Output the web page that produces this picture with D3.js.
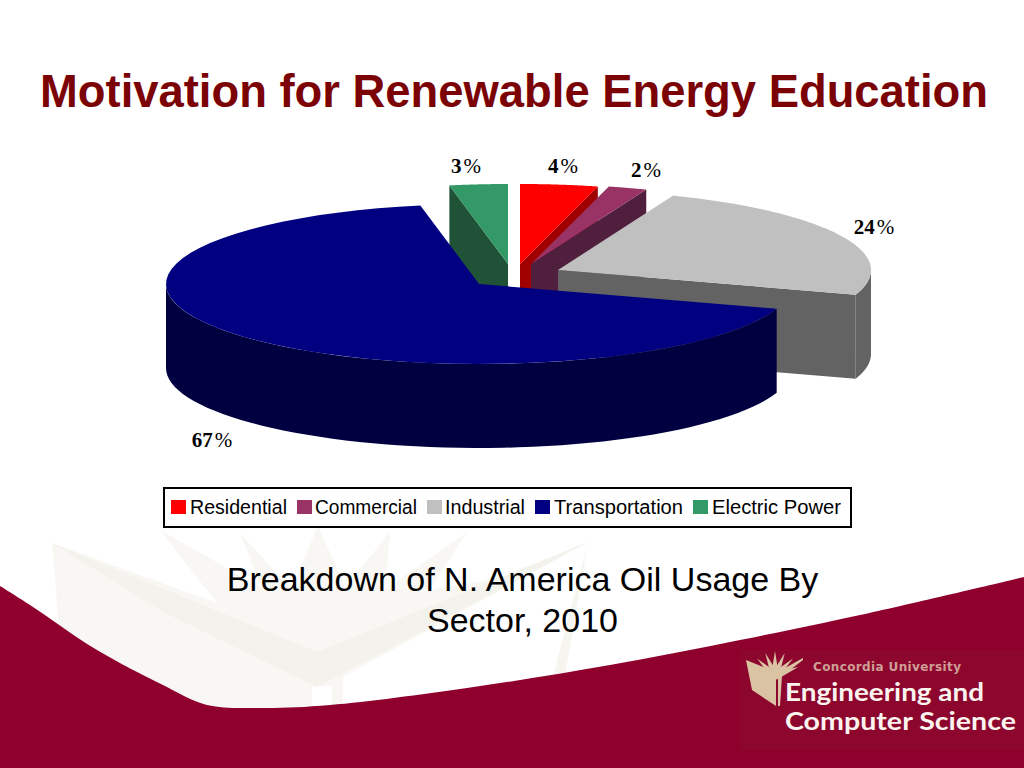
<!DOCTYPE html>
<html><head><meta charset="utf-8">
<script src="https://cdn.jsdelivr.net/npm/d3@7"></script>
<style>html,body{margin:0;padding:0;background:#fff;overflow:hidden}svg{display:block}</style>
</head><body><svg id="c" width="1024" height="768"></svg>
<script>
const categories = ["Residential","Commercial","Industrial","Transportation","Electric Power"];
const shares = [4,2,24,67,3];
const topColors = ["#ff0000","#993366","#c0c0c0","#000080","#339966"];
const wallColors = ["#a00000","#4f1f3d","#636363","#000040","#1f5236"];
const titleText = "Motivation for Renewable Energy Education";
const captionLines = ["Breakdown of N. America Oil Usage By","Sector, 2010"];
const logoLines = ["Engineering and","Computer Science"];
const logoTop = "Concordia University";

const svg = d3.select("#c");
const line = d3.line();
const smooth = d3.line().curve(d3.curveCatmullRom.alpha(0.5));

/* ---------- slide background ---------- */
const bg = svg.append("g");
bg.append("path").attr("fill","#f9f7f3").attr("d",line([
 [52,543],[217,603],[160,530],[262,588],[240,533],[292,590],[318,525],[345,588],[390,532],[385,590],
 [467,532],[430,590],[500,578],[588,542],[343,677],[343,712],[332,712],[332,686],[312,686],[312,712],[207,712],[120,700],[60,640]
])+"Z");
bg.append("path").attr("fill","#f4f2ed").attr("d",line([[52,543],[317,652],[588,542],[317,687],[163,612]])+"Z");
bg.append("path").attr("fill","#f7f5f0").attr("d",line([[588,542],[552,680],[565,675]])+"Z");
const wave = [[0,586],[30,605],[97,650],[163,685],[207,705],[263,708],[330,705],[467,688],[610,665],[740,640],[860,615],[1024,577]];
bg.append("path").attr("d",smooth(wave)+"L1024,768L0,768Z").attr("fill","#8f002c");

svg.append("text").attr("x",40).attr("y",107)
  .attr("font-family","'Liberation Sans',Arial,sans-serif").attr("font-weight","bold")
  .attr("font-size",46).attr("fill","#7b0306")
  .attr("textLength",948).attr("lengthAdjust","spacingAndGlyphs").text(titleText);

/* ---------- exploded 3-D pie ---------- */
const rx = 313, ry = 80, depth = 84;
const apex = {
  "Residential":[520,264], "Commercial":[531,264], "Industrial":[558,270],
  "Transportation":[479,284], "Electric Power":[508,264]
};
const labelAt = {
  "Residential":[563,173], "Commercial":[646,177], "Industrial":[874,234],
  "Transportation":[212,447], "Electric Power":[466,173]
};
const arcs = d3.pie().sort(null).value(d=>d)(shares);
const pt = (c,a,dy=0)=>[c[0]+rx*Math.sin(a), c[1]-ry*Math.cos(a)+dy];
const sweep = (c,a0,a1,dy=0)=>d3.range(0,61).map(i=>pt(c,a0+(a1-a0)*i/60,dy));
const paintOrder = [4,0,1,2,3];
const pieG = svg.append("g");
paintOrder.forEach(i=>{
  const c = apex[categories[i]], s = arcs[i].startAngle, e = arcs[i].endAngle;
  const g = pieG.append("g");
  const wall = wallColors[i];
  const face = a=>g.append("path")
     .attr("d",line([c,pt(c,a),pt(c,a,depth),[c[0],c[1]+depth]])+"Z").attr("fill",wall);
  if (Math.sin(e)>1e-6) face(e);
  if (Math.sin(s)<-1e-6) face(s);
  const lo = Math.max(s,Math.PI/2), hi = Math.min(e,Math.PI*1.5);
  if (hi>lo){
    const up = sweep(c,lo,hi), dn = sweep(c,hi,lo,depth);
    g.append("path").attr("d",line(up.concat(dn))+"Z").attr("fill",wall);
  }
  g.append("path").attr("d",line([c].concat(sweep(c,s,e)))+"Z").attr("fill",topColors[i]);
});
categories.forEach((n,i)=>{
  const t = svg.append("text").attr("x",labelAt[n][0]).attr("y",labelAt[n][1])
    .attr("text-anchor","middle").attr("font-family","'Liberation Serif',serif")
    .attr("font-size",21).attr("fill","#000");
  t.append("tspan").attr("font-weight","bold").text(shares[i]);
  t.append("tspan").attr("dx",2).text("%");
});

/* ---------- legend ---------- */
const lg = svg.append("g");
lg.append("rect").attr("x",164).attr("y",488).attr("width",687).attr("height",39)
  .attr("fill","#fff").attr("stroke","#000").attr("stroke-width",2);
const swX = [171,297,427,535,693], txX = [190,315,445,554,712], txW = [97,102,80,129,129];
categories.forEach((n,i)=>{
  lg.append("rect").attr("x",swX[i]).attr("y",500).attr("width",15).attr("height",14).attr("fill",topColors[i]);
  lg.append("text").attr("x",txX[i]).attr("y",514).attr("font-family","'Liberation Sans',sans-serif")
    .attr("font-size",19.5).attr("fill","#000").attr("textLength",txW[i])
    .attr("lengthAdjust","spacingAndGlyphs").text(n);
});

/* ---------- caption ---------- */
captionLines.forEach((l,i)=>svg.append("text").attr("x",522.5).attr("y",591+i*41)
  .attr("text-anchor","middle").attr("font-family","'Liberation Sans',sans-serif")
  .attr("font-size",34).attr("fill","#000").text(l));

/* ---------- logo ---------- */
const logo = svg.append("g");
logo.append("rect").attr("x",740).attr("y",650).attr("width",284).attr("height",100).attr("fill","#8d062e");
const tan = "#d9c3a3";
d3.range(0,7).forEach(i=>{
  const a = -1.2+i*0.4, bx=775, by=676;
  logo.append("path").attr("d",line([[bx-4*Math.cos(a),by-4*Math.sin(a)],[bx+25*Math.sin(a),by-25*Math.cos(a)],[bx+4*Math.cos(a),by+4*Math.sin(a)]])+"Z").attr("fill",tan);
});
logo.append("path").attr("d",line([[746,660],[776,672],[776,706],[752,690]])+"Z").attr("fill",tan);
logo.append("path").attr("d",line([[778,672],[803,658],[803,660],[782,676],[780,706],[778,706]])+"Z").attr("fill",tan);
logo.append("text").attr("x",813).attr("y",671).attr("font-family","'DejaVu Sans',sans-serif").attr("font-weight","bold")
  .attr("font-size",12).attr("fill","#cf9f96").attr("textLength",148).text(logoTop);
logoLines.forEach((l,i)=>logo.append("text").attr("x",785).attr("y",701+i*29)
  .attr("font-family","Lato,sans-serif").attr("font-weight","bold").attr("font-size",24)
  .attr("fill","#fbf3ee").attr("textLength",i?231:199).attr("lengthAdjust","spacingAndGlyphs").text(l));
</script></body></html>
